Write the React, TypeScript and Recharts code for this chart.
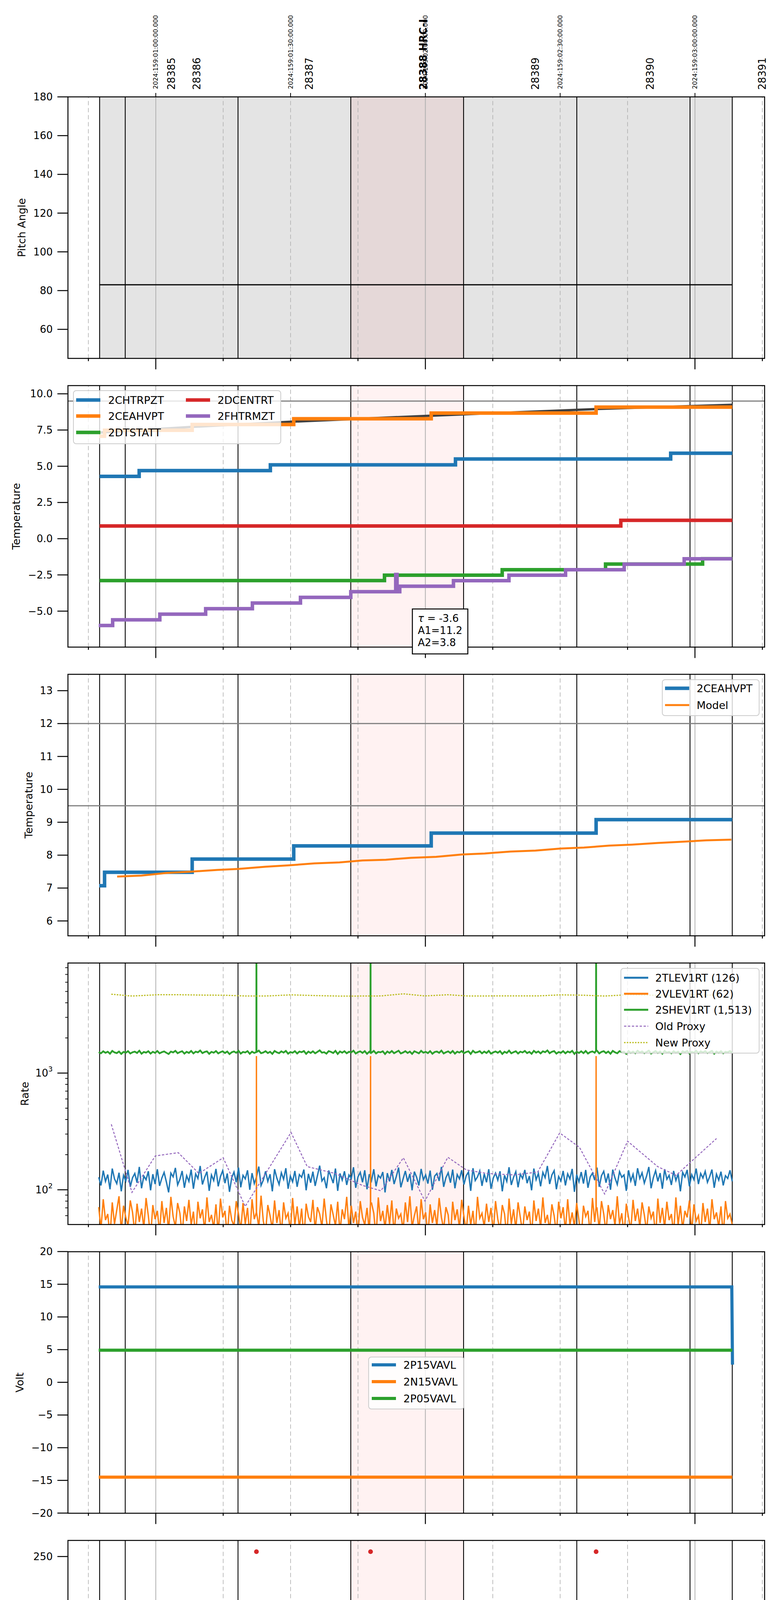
import React from "react";
import { ComposedChart, Line, Scatter, XAxis, YAxis, ReferenceLine, ReferenceArea } from "recharts";

const FONT = "DejaVu Sans";
const BLUE = "#1f77b4";
const ORANGE = "#ff7f0e";
const GREEN = "#2ca02c";
const RED = "#d62728";
const PURPLE = "#9467bd";
const OLIVE = "#bcbd22";

// time axis: minutes after 2024-06-07 20:00
const X_DOMAIN = [40.45, 195.5];
const X_TICKS = [45, 60, 75, 90, 105, 120, 135, 150, 165, 180, 195];
const TOP_TICKS = [60, 90, 120, 150, 180];
const TOP_LABELS = [
  "2024:159:01:00:00.000",
  "2024:159:01:30:00.000",
  "2024:159:02:00:00.000",
  "2024:159:02:30:00.000",
  "2024:159:03:00:00.000",
];
const OBS_T = [63.5, 69.1, 94.2, 119.5, 144.45, 170.0, 194.95];
const OBS_LABELS = ["28385", "28386", "28387", "28388 HRC-I", "28389", "28390", "28391"];
const OBS_EDGES = [47.5, 53.2, 78.3, 103.4, 128.5, 153.7, 178.9, 188.3];
const HRC_SPAN = [103.4, 128.5];
const SCHED_SPAN = [47.5, 188.3];

// pitch angle
const pitch = [[47.5, 83], [188.3, 83]];

// temperatures [t, value] at each change
const chtrpzt = [[47.5, 4.3], [56.3, 4.7], [85.5, 5.1], [126.7, 5.5], [174.6, 5.9], [188.3, 5.9]];
const ceahvpt = [[47.4, 7.07], [48.6, 7.48], [68.1, 7.88], [90.7, 8.28], [121.3, 8.67], [158.0, 9.08], [188.3, 9.08]];
const ceahvptTrend = [[47.5, 7.33], [68.1, 7.72], [90.6, 8.08], [121.2, 8.49], [158.1, 8.95], [188.3, 9.24]];
const dcentrt = [[47.5, 0.88], [163.5, 1.27], [188.3, 1.27]];
const dtstatt = [[47.5, -2.89], [110.9, -2.52], [137.1, -2.14], [160.1, -1.75], [181.7, -1.38], [188.3, -1.38]];
const fhtrmzt = [
  [47.3, -5.99], [50.4, -5.6], [60.9, -5.21], [71.1, -4.83], [81.5, -4.44], [92.2, -4.05],
  [103.4, -3.66], [113.4, -2.47], [113.7, -3.66], [114.3, -3.28], [126.25, -2.9], [138.6, -2.52],
  [151.2, -2.14], [164.25, -1.76], [177.6, -1.39], [188.3, -1.39],
];
const MODEL_T = [51.4, 56.8, 62.4, 68.1, 73.7, 78.3, 84.5, 89.6, 95.3, 100.9, 106.0, 111.2, 116.8, 122.4, 128.1, 133.2, 138.9, 144.5, 150.1, 155.3, 160.9, 166.0, 171.7, 177.3, 182.5, 188.1];
const MODEL_V = [7.35, 7.38, 7.46, 7.5, 7.55, 7.58, 7.65, 7.69, 7.75, 7.78, 7.84, 7.86, 7.92, 7.95, 8.02, 8.05, 8.11, 8.14, 8.2, 8.23, 8.29, 8.32, 8.37, 8.41, 8.45, 8.47];

// rates, sampled every 30 s from RATE_T0 to RATE_T1
const RATE_T0 = 47.3;
const RATE_T1 = 188.3;
const tlev1rt = [
  128, 109, 146, 118, 135, 101, 152, 124, 113, 140, 97, 133, 119, 148, 106, 127, 138, 115, 157, 103,
  131, 122, 144, 99, 136, 112, 150, 108, 126, 141, 117, 95, 139, 129, 154, 110, 123, 145, 104, 132,
  118, 149, 102, 137, 125, 160, 111, 128, 143, 98, 134, 120, 151, 107, 130, 146, 114, 138, 96, 127,
  142, 116, 155, 105, 133, 124, 147, 100, 139, 113, 129, 158, 109, 121, 144, 118, 136, 97, 150, 126,
  111, 140, 123, 153, 102, 131, 117, 145, 106, 135, 128, 149, 99, 137, 115, 143, 108, 132, 161, 119,
  127, 103, 146, 130, 114, 152, 98, 138, 121, 144, 110, 134, 125, 156, 104, 129, 141, 116, 147, 101,
  136, 120, 150, 107, 133, 126, 142, 95, 139, 118, 148, 112, 130, 155, 105, 124, 145, 117, 137, 99,
  143, 128, 109, 151, 122, 134, 113, 146, 100, 131, 138, 119, 157, 106, 127, 140, 115, 149, 103, 135,
  124, 147, 111, 132, 142, 98, 153, 120, 129, 145, 108, 137, 116, 150, 102, 126, 139, 121, 144, 97,
  133, 118, 156, 110, 128, 143, 105, 136, 125, 148, 114, 131, 99, 152, 122, 138, 107, 141, 127, 160,
  112, 134, 146, 101, 130, 119, 145, 109, 137, 124, 151, 96, 135, 117, 142, 113, 148, 104, 129, 139,
  121, 155, 106, 132, 144, 115, 138, 100, 149, 126, 111, 143, 128, 134, 98, 147, 119, 136, 108, 153,
  125, 140, 114, 131, 157, 103, 127, 146, 118, 139, 102, 150, 123, 133, 110, 145, 120, 137, 97, 141,
  129, 148, 107, 135, 122, 152, 112, 138, 126, 144, 116, 130, 149, 104, 136, 121, 143, 109, 132, 125,
  147, 118,
];
const vlev1rt = [
  71, 46, 83, 55, 62, 40, 78, 51, 67, 88, 44, 73, 58, 49, 81, 64, 42, 76, 53, 69,
  47, 85, 60, 39, 74, 56, 66, 43, 80, 52, 70, 45, 87, 59, 48, 77, 63, 41, 72, 54,
  82, 50, 65, 38, 79, 57, 68, 44, 86, 53, 61, 47, 75, 42, 84, 58, 66, 40, 73, 55,
  49, 80, 62, 45, 77, 51, 70, 39, 83, 56, 64, 48, 89, 54, 43, 74, 60, 46, 81, 52,
  67, 41, 78, 57, 63, 44, 85, 50, 72, 47, 69, 38, 76, 59, 53, 82, 45, 71, 62, 48,
  84, 55, 40, 75, 61, 49, 79, 43, 68, 56, 87, 46, 73, 52, 65, 41, 80, 58, 50, 70,
  44, 77, 63, 39, 86, 54, 66, 47, 74, 51, 81, 42, 69, 57, 62, 45, 78, 53, 88, 48,
  60, 72, 43, 83, 56, 64, 40, 75, 52, 67, 49, 85, 58, 46, 71, 61, 38, 79, 55, 68,
  47, 82, 59, 44, 73, 50, 66, 41, 87, 57, 63, 48, 76, 53, 70, 42, 80, 56, 45, 74,
  62, 39, 84, 51, 68, 46, 78, 58, 43, 72, 55, 65, 40, 81, 54, 69, 47, 86, 52, 61,
  45, 75, 60, 42, 79, 57, 71, 44, 83, 50, 64, 48, 77, 55, 38, 73, 59, 66, 41, 85,
  53, 70, 46, 80, 62, 43, 74, 56, 67, 49, 88, 51, 63, 40, 76, 58, 45, 82, 54, 69,
  48, 78, 61, 44, 72, 57, 65, 39, 84, 52, 70, 47, 79, 55, 62, 42, 86, 50, 73, 46,
  66, 58, 81, 43, 75, 54, 60, 41, 77, 53, 69, 45, 83, 56, 64, 48, 72, 40, 80, 57,
  62, 50,
];
const shev1rt = [
  1512, 1478, 1536, 1491, 1524, 1466, 1548, 1502, 1483, 1530, 1459, 1519, 1495, 1541, 1471, 1508, 1527, 1486, 1553, 1464,
  1516, 1497, 1538, 1469, 1522, 1489, 1545, 1476, 1510, 1533, 1492, 1457, 1528, 1503, 1550, 1480, 1514, 1540, 1468, 1521,
  1488, 1547, 1473, 1525, 1506, 1561, 1482, 1517, 1535, 1462, 1520, 1494, 1543, 1475, 1511, 1537, 1485, 1529, 1455, 1507,
  1532, 1490, 1552, 1470, 1518, 1501, 1542, 1463, 1526, 1487, 1513, 1558, 1479, 1499, 1539, 1484, 1523, 1460, 1546, 1505,
  1481, 1534, 1498, 1549, 1465, 1515, 1493, 1540, 1472, 1528, 1509, 1544, 1461, 1527, 1486, 1536, 1477, 1518, 1566, 1495,
  1509, 1467, 1541, 1520, 1484, 1551, 1458, 1531, 1496, 1539, 1478, 1522, 1504, 1555, 1470, 1512, 1535, 1489, 1543, 1463,
  1524, 1497, 1548, 1474, 1519, 1506, 1537, 1456, 1530, 1488, 1545, 1480, 1516, 1554, 1472, 1500, 1540, 1487, 1527, 1461,
  1538, 1508, 1476, 1550, 1494, 1521, 1482, 1542, 1464, 1515, 1529, 1491, 1557, 1473, 1507, 1534, 1485, 1546, 1468, 1525,
  1499, 1544, 1479, 1517, 1536, 1459, 1553, 1495, 1511, 1540, 1475, 1528, 1486, 1549, 1466, 1504, 1532, 1493, 1541, 1457,
  1522, 1488, 1556, 1477, 1510, 1538, 1470, 1526, 1502, 1547, 1483, 1519, 1462, 1551, 1496, 1531, 1474, 1537, 1509, 1563,
  1480, 1523, 1543, 1467, 1514, 1492, 1540, 1476, 1529, 1501, 1550, 1458, 1525, 1487, 1536, 1481, 1546, 1471, 1512, 1533,
  1494, 1555, 1473, 1518, 1539, 1484, 1530, 1463, 1548, 1505, 1478, 1541, 1513, 1524, 1460, 1545, 1490, 1527, 1479, 1552,
  1503, 1534, 1482, 1516, 1557, 1469, 1507, 1543, 1489, 1531, 1465, 1549, 1497, 1520, 1477, 1540, 1495, 1526, 1455, 1537,
  1511, 1546, 1472, 1523, 1496, 1552, 1481, 1535, 1504, 1542, 1486, 1517, 1548, 1466, 1528, 1493, 1539, 1478, 1521, 1507,
  1545, 1490,
];
const BIG_SPIKES = [82.4, 107.8, 158.0];
const SHEV_SPIKE_V = 30000;
const VLEV_SPIKE_V = 1400;
const OLD_PROXY_T = [50.1, 54.7, 59.9, 65.0, 69.6, 75.0, 79.9, 90.1, 93.7, 99.9, 106.0, 110.1, 115.1, 119.9, 125.0, 129.1, 133.7, 139.9, 145.0, 149.9, 154.3, 159.9, 165.0, 171.7, 175.8, 184.8];
const OLD_PROXY_V = [364, 95, 195, 208, 138, 188, 72, 310, 158, 138, 109, 98, 188, 80, 190, 148, 138, 134, 142, 307, 231, 92, 261, 158, 133, 275];
const NEW_PROXY_T = [50.1, 54.7, 60.4, 65.0, 70.1, 75.2, 80.4, 85.0, 90.1, 95.3, 100.4, 105.0, 110.1, 115.1, 119.9, 125.0, 129.6, 134.8, 139.9, 145.0, 150.1, 155.3, 159.9, 165.0, 170.0, 175.0, 180.0, 184.8];
const NEW_PROXY_V = [4740, 4570, 4690, 4690, 4660, 4645, 4570, 4580, 4680, 4615, 4570, 4570, 4580, 4775, 4580, 4690, 4570, 4580, 4580, 4580, 4680, 4645, 4570, 4690, 4650, 4620, 4680, 4640];

// voltages
const p15vavl = [[47.3, 14.6], [188.2, 14.6], [188.35, 2.7]];
const n15vavl = [[47.3, -14.5], [188.3, -14.5]];
const p05vavl = [[47.3, 4.92], [188.3, 4.92]];

// HV monitor
const imhvlvBand = [[47.3, 79.6], [188.3, 79.6]];
const imhblvBand = [[47.3, 86.4], [188.3, 86.4]];
const HV_GLITCH_T = [55.0, 58.2, 60.5, 94.5, 95.5, 96.4, 98.2, 105.5, 108.7];
const IMHVLV_GLITCH_V = 127;
const IMHBLV_GLITCH_V = 79.6;
const IMHBLV_SPIKE_V = 255;

// detector / FEA temperatures
const GLITCH_A = [54.7, 55.0, 57.5, 58.0, 59.9, 60.4, 60.9, 61.4, 61.9, 62.4, 62.9, 63.8];
const GLITCH_B = [84.0, 86.3, 87.6, 90.1, 90.8, 93.7, 94.5, 95.3, 96.5, 98.2, 99.7, 100.4, 101.4, 102.5, 105.5, 108.7, 109.6];
const SPHV_DIP_A = [8.65, 8.65, 8.65, 8.65, 8.65, 8.65, 8.65, 8.65, 8.65, 8.65, 8.65, 8.97];
const SPHV_DIP_B = 9.3;
const spinatm = [[47.3, 2.68], [139.9, 3.16], [188.3, 3.16]];
const sphvatm = [[47.3, 15.0], [58.8, 15.32], [89.3, 15.67], [117.6, 16.02], [148.6, 16.37], [180.7, 16.7], [188.3, 16.7]];
const iminatm = [[47.3, 0.37], [60.4, 0.82], [150.1, 1.26], [188.3, 1.26]];
const imhvatm = [
  [47.3, 14.99], [52.0, 15.32], [58.8, 15.66], [66.8, 16.02], [75.6, 16.37], [85.9, 16.72],
  [98.3, 17.07], [114.2, 17.41], [134.2, 17.77], [158.7, 18.12], [184.0, 18.49], [188.3, 18.49],
];
const sphvExtra = [[94.7, 2.7, 0.08], [121.2, 15.67, 0.3], [185.6, 16.3, 0.3]];
const imhvExtra = [[182.6, 18.55, 0.15]];
const fradpyt = [
  [47.3, -8.42], [51.3, -8.01], [63.4, -7.61], [75.2, -7.21], [87.6, -6.81], [100.2, -6.4],
  [112.9, -6.0], [126.0, -5.62], [139.9, -5.23], [153.9, -4.83], [168.9, -4.44], [184.0, -4.06], [188.3, -4.06],
];
const fepratm = [
  [47.3, -4.81], [48.3, -4.38], [54.2, -3.97], [62.9, -3.55], [70.9, -3.13], [80.4, -2.71], [89.6, -2.29],
  [100.9, -1.86], [113.5, -1.42], [126.3, -0.99], [139.7, -0.55], [154.0, -0.1], [168.8, 0.34], [184.8, 0.8], [188.3, 0.8],
];
const fe00atm = [
  [47.3, -6.78], [49.6, -6.42], [56.5, -6.07], [63.4, -5.71], [70.4, -5.36], [77.8, -5.02], [85.5, -4.67],
  [94.2, -4.33], [102.4, -4.0], [111.2, -3.66], [120.6, -3.31], [129.6, -2.98], [139.7, -2.64], [149.9, -2.29],
  [160.2, -1.96], [171.2, -1.63], [181.9, -1.3], [188.3, -1.3],
];
const FE00_DOWN_T = [82.4, 94.7, 107.8, 158.0];
const fe00Extra = [[56.2, -6.84, 0.2], [74.9, -4.97, 0.2], [140.5, -2.24, 0.2], [145.4, -3.0, 0.2], [154.4, -1.92, 0.2], [161.9, -1.6, 0.2], [175.2, -2.02, 0.2]];
const FEPR_DIP_V = -6.1;

// ---------- helpers ----------
const pts = (a: number[][]) => a.map(([t, v]) => ({ t, v }));
const zipTV = (T: number[], V: number[]) => T.map((t, k) => ({ t, v: V[k] }));
const levelAt = (steps: number[][], t: number) => {
  let v = steps[0][1];
  for (const [s, w] of steps) if (s <= t) v = w;
  return v;
};
const GW = 0.3;
function withGlitches(steps: number[][], glitches: number[][]) {
  const out = pts(steps);
  for (const [t, v, w = GW] of glitches) {
    out.push({ t, v }, { t: t + w, v: levelAt(steps, t + w) });
  }
  return out.sort((a, b) => a.t - b.t);
}
function rateSeries(vals: number[], spikes: number[][]) {
  const dt = (RATE_T1 - RATE_T0) / (vals.length - 1);
  const out = vals.map((v, k) => ({ t: RATE_T0 + k * dt, v }));
  for (const [t, v] of spikes) {
    const k = Math.min(Math.max(Math.round((t - RATE_T0) / dt), 0), vals.length - 1);
    out.push({ t: t - 0.02, v: vals[k] }, { t, v }, { t: t + 0.02, v: vals[k] });
  }
  return out.sort((a, b) => a.t - b.t);
}

const sphvGl = [
  ...GLITCH_A.map((t, k) => [t, SPHV_DIP_A[k]]),
  ...GLITCH_B.map((t) => [t, SPHV_DIP_B]),
  ...sphvExtra,
];
const allGl = [...GLITCH_A, ...GLITCH_B];
const detData = {
  spinatm: withGlitches(spinatm, allGl.map((t) => [t, -1.5])),
  sphvatm: withGlitches(sphvatm, sphvGl),
  iminatm: withGlitches(iminatm, allGl.map((t) => [t, 2.68])),
  imhvatm: withGlitches(imhvatm, [
    ...allGl.map((t) => [t, levelAt(sphvatm, t) - 0.05]),
    ...BIG_SPIKES.map((t) => [t, -3, 0.08]),
    ...imhvExtra,
  ]),
};
const feaData = {
  fhtrmzt: pts(fhtrmzt),
  fradpyt: pts(fradpyt),
  fepratm: withGlitches(fepratm, [...GLITCH_B, ...BIG_SPIKES, 94.7].map((t) => [t, FEPR_DIP_V, 0.2])),
  fe00atm: withGlitches(fe00atm, [
    ...allGl.map((t) => [t, 2.0]),
    ...FE00_DOWN_T.map((t) => [t, -10, 0.08]),
    ...fe00Extra,
  ]),
};

// ---------- layout ----------
const PT = [248, 987.1, 1726.2, 2465.3, 3204.4, 3943.5, 4682.6, 5421.7];
const PH = 669.5;
const AXL = 174;
const AXR = 1958;

const num = (d: number) => (v: number) => (v < 0 ? "\u2212" : "") + Math.abs(v).toFixed(d);
const xTickText = (v: number) => (v % 60 === 0 ? `${20 + v / 60}h` : String(v % 60));

function XTick(props: any) {
  const { x, payload, base, labels } = props;
  const v = payload.value;
  const major = v % 60 === 0;
  return (
    <g>
      <line x1={x} x2={x} y1={base} y2={base + (major ? 28 : 7)} stroke="#000" strokeWidth={2.5} />
      {labels && (
        <text x={x} y={base + (major ? 49 : 15)} textAnchor="middle" dominantBaseline="central"
          fontSize={major ? 27 : 19} fontFamily={FONT} fill="#000">
          {xTickText(v)}
        </text>
      )}
    </g>
  );
}

function TopTick(props: any) {
  const { x, payload, base } = props;
  const k = TOP_TICKS.indexOf(payload.value);
  return (
    <g>
      <line x1={x} x2={x} y1={base - 10} y2={base} stroke="#000" strokeWidth={2} />
      <text transform={`translate(${x},228) rotate(-90)`} dominantBaseline="central" fontSize={16}
        fontFamily={FONT} fill="#000">{TOP_LABELS[k]}</text>
    </g>
  );
}

function ObsTick(props: any) {
  const { x, payload } = props;
  const k = OBS_T.indexOf(payload.value);
  const label = OBS_LABELS[k];
  return (
    <text transform={`translate(${x},230) rotate(-90)`} dominantBaseline="central" fontSize={26}
      fontWeight={label.includes("HRC") ? "bold" : "normal"} fontFamily={FONT} fill="#000">{label}</text>
  );
}

function YTick(props: any) {
  const { y, payload, fmt, log } = props;
  const v = payload.value;
  const exp = Math.log10(v);
  const minor = log && Math.abs(exp - Math.round(exp)) > 1e-6;
  return (
    <g>
      <line x1={AXL - (minor ? 7 : 27)} x2={AXL} y1={y} y2={y} stroke="#000" strokeWidth={minor ? 1.8 : 2.5} />
      {!minor && (
        <text x={135} y={y} textAnchor="end" dominantBaseline="central" fontSize={26} fontFamily={FONT} fill="#000">
          {log ? (
            <>
              10<tspan dy={-11} fontSize={18}>{Math.round(exp)}</tspan>
            </>
          ) : (
            fmt(v)
          )}
        </text>
      )}
    </g>
  );
}

function backdrop(first: boolean) {
  return [
    first ? (
      <ReferenceArea key="sched" x1={SCHED_SPAN[0]} x2={SCHED_SPAN[1]} fill="#e4e4e4" fillOpacity={1} stroke="none" />
    ) : null,
    <ReferenceArea key="hrc" x1={HRC_SPAN[0]} x2={HRC_SPAN[1]} fill="#ff0000" fillOpacity={0.05} stroke="none" />,
    ...X_TICKS.filter((t) => t % 60 !== 0).map((t) => (
      <ReferenceLine key={"m" + t} x={t} stroke="#b0b0b0" strokeWidth={1.6} strokeDasharray="11 7" />
    )),
    ...X_TICKS.filter((t) => t % 60 === 0).map((t) => (
      <ReferenceLine key={"M" + t} x={t} stroke="#b0b0b0" strokeWidth={2} />
    )),
    ...OBS_EDGES.map((t) => <ReferenceLine key={"o" + t} x={t} stroke="#000" strokeWidth={2.2} />),
  ];
}

function Panel({ i, domain, ticks, fmt, log = false, children }: any) {
  const first = i === 0;
  const last = i === PT.length - 1;
  const plotTop = first ? PT[0] : 20;
  const xh = last ? 110 : 40;
  return (
    <div style={{ position: "absolute", left: 0, top: PT[i] - plotTop }}>
      <ComposedChart width={2000} height={plotTop + PH + xh}
        margin={{ top: first ? plotTop - 2 : plotTop, right: 2000 - AXR, bottom: 0, left: 0 }}>
        <XAxis dataKey="t" type="number" domain={X_DOMAIN} allowDataOverflow ticks={X_TICKS} interval={0}
          height={xh} axisLine={false} tickLine={false} tick={<XTick base={plotTop + PH} labels={last} />} />
        {first && (
          <XAxis xAxisId="top" orientation="top" dataKey="t" type="number" domain={X_DOMAIN} allowDataOverflow
            ticks={TOP_TICKS} interval={0} height={1} axisLine={false} tickLine={false} tick={<TopTick base={plotTop} />} />
        )}
        {first && (
          <XAxis xAxisId="obs" orientation="top" dataKey="t" type="number" domain={X_DOMAIN} allowDataOverflow
            ticks={OBS_T} interval={0} height={1} axisLine={false} tickLine={false} tick={<ObsTick />} />
        )}
        <YAxis dataKey="v" type="number" width={AXL} domain={domain} allowDataOverflow scale={log ? "log" : "auto"}
          ticks={ticks} interval={0} axisLine={false} tickLine={false} tick={<YTick fmt={fmt} log={log} />} />
        {backdrop(first)}
        {children}
      </ComposedChart>
    </div>
  );
}

const lineProps = { dataKey: "v", dot: false, activeDot: false, isAnimationActive: false, legendType: "none" as const };
const dotShape = (c: string) => (p: any) => <circle cx={p.cx} cy={p.cy} r={6} fill={c} />;

type Entry = { label: string; color: string; sx: number; tx: number; y: number; lw?: number; dash?: string; dot?: boolean };

function LegendBox({ x, y, w, h, entries }: { x: number; y: number; w: number; h: number; entries: Entry[] }) {
  return (
    <g>
      <rect x={x} y={y} width={w} height={h} rx={7} fill="#fff" fillOpacity={0.8} stroke="#cccccc" strokeWidth={2} />
      {entries.map((e) => (
        <g key={e.label}>
          {e.dot ? (
            <circle cx={e.sx + 31} cy={e.y} r={5} fill={e.color} />
          ) : (
            <line x1={e.sx} x2={e.sx + 62} y1={e.y} y2={e.y} stroke={e.color} strokeWidth={e.lw ?? 9}
              strokeDasharray={e.dash} />
          )}
          <text x={e.tx} y={e.y} dominantBaseline="central" fontSize={27} fontFamily={FONT} fill="#000">{e.label}</text>
        </g>
      ))}
    </g>
  );
}

const col = (sx: number, tx: number, rows: number[], items: any[]): Entry[] =>
  items.map((it, k) => ({ ...it, sx, tx, y: rows[k] }));

function Overlay() {
  const yLabels: [string, number][] = [
    ["Pitch Angle", 55], ["Temperature", 41], ["Temperature", 73], ["Rate", 63],
    ["Volt", 50], ["HV Monitor", 55], ["Detector Temp", 47], ["FEA Temp", 67],
  ];
  return (
    <svg width={2000} height={6200} style={{ position: "absolute", left: 0, top: 0, pointerEvents: "none" }}>
      {PT.map((t, i) => (
        <rect key={i} x={AXL} y={t} width={AXR - AXL} height={PH} fill="none" stroke="#000" strokeWidth={2.5} />
      ))}
      {yLabels.map(([s, x], i) => (
        <text key={i} transform={`translate(${x},${PT[i] + PH / 2}) rotate(-90)`} textAnchor="middle"
          dominantBaseline="central" fontSize={27} fontFamily={FONT} fill="#000">{s}</text>
      ))}
      <LegendBox x={188} y={1000} w={531} h={136} entries={[
        ...col(195, 277, [1024, 1065, 1107], [
          { label: "2CHTRPZT", color: BLUE }, { label: "2CEAHVPT", color: ORANGE }, { label: "2DTSTATT", color: GREEN },
        ]),
        ...col(476, 557, [1024, 1065], [{ label: "2DCENTRT", color: RED }, { label: "2FHTRMZT", color: PURPLE }]),
      ]} />
      <g>
        <rect x={1056} y={1559} width={142} height={115} fill="#fff" stroke="#000" strokeWidth={2.5} />
        <text x={1070} y={1583} dominantBaseline="central" fontSize={26} fontFamily={FONT}>
          <tspan fontStyle="italic">τ</tspan> = -3.6
        </text>
        <text x={1070} y={1614} dominantBaseline="central" fontSize={26} fontFamily={FONT}>A1=11.2</text>
        <text x={1070} y={1645} dominantBaseline="central" fontSize={26} fontFamily={FONT}>A2=3.8</text>
      </g>
      <LegendBox x={1696} y={1740} w={248} h={92} entries={col(1703, 1784, [1762, 1805], [
        { label: "2CEAHVPT", color: BLUE }, { label: "Model", color: ORANGE, lw: 5 },
      ])} />
      <LegendBox x={1590} y={2479} w={354} h={217} entries={col(1598, 1678, [2503, 2544, 2585, 2627, 2669], [
        { label: "2TLEV1RT (126)", color: BLUE, lw: 5 }, { label: "2VLEV1RT (62)", color: ORANGE, lw: 5 },
        { label: "2SHEV1RT (1,513)", color: GREEN, lw: 5 }, { label: "Old Proxy", color: PURPLE, lw: 2.5, dash: "6 4" },
        { label: "New Proxy", color: OLIVE, lw: 3, dash: "4 3" },
      ])} />
      <LegendBox x={944} y={3474} w={244} h={133} entries={col(952, 1033, [3494, 3537, 3580], [
        { label: "2P15VAVL", color: BLUE, lw: 8 }, { label: "2N15VAVL", color: ORANGE, lw: 8 },
        { label: "2P05VAVL", color: GREEN, lw: 8 },
      ])} />
      <LegendBox x={955} y={4424} w={222} h={176} entries={col(960, 1043, [4447, 4489, 4530, 4572], [
        { label: "2SPHBLV", color: BLUE, dot: true }, { label: "2SPHVLV", color: ORANGE, dot: true },
        { label: "2IMHVLV", color: GREEN, dot: true }, { label: "2IMHBLV", color: RED, dot: true },
      ])} />
      <LegendBox x={1696} y={4929} w={248} h={176} entries={col(1703, 1784, [4951, 4994, 5035, 5077], [
        { label: "2SPINATM", color: BLUE }, { label: "2SPHVATM", color: ORANGE },
        { label: "2IMINATM", color: GREEN }, { label: "2IMHVATM", color: RED },
      ])} />
      <LegendBox x={1693} y={5901} w={251} h={176} entries={col(1699, 1780, [5923, 5966, 6007, 6049], [
        { label: "2FHTRMZT", color: BLUE }, { label: "2FRADPYT", color: ORANGE },
        { label: "2FEPRATM", color: GREEN }, { label: "2FE00ATM", color: RED },
      ])} />
      <text x={(AXL + AXR) / 2} y={6178} textAnchor="middle" dominantBaseline="central" fontSize={32}
        fontFamily={FONT} fill="#000">2024-06-07 (159)</text>
    </svg>
  );
}

export default function App() {
  return (
    <div style={{ position: "absolute", left: 0, top: 0, width: 2000, height: 6200, background: "#fff" }}>
      <Panel i={0} domain={[45, 180]} ticks={[60, 80, 100, 120, 140, 160, 180]} fmt={num(0)}>
        <Line data={pts(pitch)} type="linear" stroke="#000" strokeWidth={3} {...lineProps} />
      </Panel>

      <Panel i={1} domain={[-7.48, 10.57]} ticks={[-5, -2.5, 0, 2.5, 5, 7.5, 10]} fmt={num(1)}>
        <ReferenceLine y={9.5} stroke="#808080" strokeWidth={3} />
        <Line data={pts(ceahvptTrend)} type="linear" stroke="#404040" strokeWidth={6} {...lineProps} />
        <Line data={pts(chtrpzt)} type="stepAfter" stroke={BLUE} strokeWidth={9} {...lineProps} />
        <Line data={pts(ceahvpt)} type="stepAfter" stroke={ORANGE} strokeWidth={9} {...lineProps} />
        <Line data={pts(dtstatt)} type="stepAfter" stroke={GREEN} strokeWidth={9} {...lineProps} />
        <Line data={pts(dcentrt)} type="stepAfter" stroke={RED} strokeWidth={9} {...lineProps} />
        <Line data={pts(fhtrmzt)} type="stepAfter" stroke={PURPLE} strokeWidth={9} {...lineProps} />
      </Panel>

      <Panel i={2} domain={[5.55, 13.5]} ticks={[6, 7, 8, 9, 10, 11, 12, 13]} fmt={num(0)}>
        <ReferenceLine y={12} stroke="#808080" strokeWidth={3} />
        <ReferenceLine y={9.5} stroke="#808080" strokeWidth={3} />
        <Line data={pts(ceahvpt)} type="stepAfter" stroke={BLUE} strokeWidth={9} {...lineProps} />
        <Line data={zipTV(MODEL_T, MODEL_V)} type="linear" stroke={ORANGE} strokeWidth={5} {...lineProps} />
      </Panel>

      <Panel i={3} log domain={[50.5, 8790]}
        ticks={[60, 70, 80, 90, 100, 200, 300, 400, 500, 600, 700, 800, 900, 1000, 2000, 3000, 4000, 5000, 6000, 7000, 8000]}>
        <Line data={rateSeries(tlev1rt, [])} type="linear" stroke={BLUE} strokeWidth={3.5} {...lineProps} />
        <Line data={rateSeries(vlev1rt, BIG_SPIKES.map((t) => [t, VLEV_SPIKE_V]))} type="linear" stroke={ORANGE}
          strokeWidth={3.5} {...lineProps} />
        <Line data={rateSeries(shev1rt, BIG_SPIKES.map((t) => [t, SHEV_SPIKE_V]))} type="linear" stroke={GREEN}
          strokeWidth={4.5} {...lineProps} />
        <Line data={zipTV(OLD_PROXY_T, OLD_PROXY_V)} type="linear" stroke={PURPLE} strokeWidth={2.5}
          strokeDasharray="6 4" {...lineProps} />
        <Line data={zipTV(NEW_PROXY_T, NEW_PROXY_V)} type="linear" stroke={OLIVE} strokeWidth={3}
          strokeDasharray="4 3" {...lineProps} />
      </Panel>

      <Panel i={4} domain={[-20, 20]} ticks={[-20, -15, -10, -5, 0, 5, 10, 15, 20]} fmt={num(0)}>
        <Line data={pts(p15vavl)} type="linear" stroke={BLUE} strokeWidth={8} {...lineProps} />
        <Line data={pts(n15vavl)} type="linear" stroke={ORANGE} strokeWidth={8} {...lineProps} />
        <Line data={pts(p05vavl)} type="linear" stroke={GREEN} strokeWidth={8} {...lineProps} />
      </Panel>

      <Panel i={5} domain={[0, 266.2]} ticks={[0, 50, 100, 150, 200, 250]} fmt={num(0)}>
        <Line data={pts(imhvlvBand)} type="linear" stroke={GREEN} strokeWidth={10} {...lineProps} />
        <Scatter data={HV_GLITCH_T.map((t) => ({ t, v: IMHVLV_GLITCH_V }))} dataKey="v" fill={GREEN}
          shape={dotShape(GREEN)} isAnimationActive={false} />
        <Line data={pts(imhblvBand)} type="linear" stroke={RED} strokeWidth={11} {...lineProps} />
        <Scatter data={[...HV_GLITCH_T.map((t) => ({ t, v: IMHBLV_GLITCH_V })), ...BIG_SPIKES.map((t) => ({ t, v: IMHBLV_SPIKE_V }))]}
          dataKey="v" fill={RED} shape={dotShape(RED)} isAnimationActive={false} />
      </Panel>

      <Panel i={6} domain={[-0.71, 19.25]} ticks={[0, 2.5, 5, 7.5, 10, 12.5, 15, 17.5]} fmt={num(1)}>
        <Line data={detData.spinatm} type="stepAfter" stroke={BLUE} strokeWidth={9} {...lineProps} />
        <Line data={detData.sphvatm} type="stepAfter" stroke={ORANGE} strokeWidth={9} {...lineProps} />
        <Line data={detData.iminatm} type="stepAfter" stroke={GREEN} strokeWidth={9} {...lineProps} />
        <Line data={detData.imhvatm} type="stepAfter" stroke={RED} strokeWidth={9} {...lineProps} />
      </Panel>

      <Panel i={7} domain={[-8.7, 0.94]} ticks={[-8, -6, -4, -2, 0]} fmt={num(0)}>
        <Line data={feaData.fhtrmzt} type="stepAfter" stroke={BLUE} strokeWidth={9} {...lineProps} />
        <Line data={feaData.fradpyt} type="stepAfter" stroke={ORANGE} strokeWidth={9} {...lineProps} />
        <Line data={feaData.fepratm} type="stepAfter" stroke={GREEN} strokeWidth={9} {...lineProps} />
        <Line data={feaData.fe00atm} type="stepAfter" stroke={RED} strokeWidth={9} {...lineProps} />
      </Panel>

      <Overlay />
    </div>
  );
}
